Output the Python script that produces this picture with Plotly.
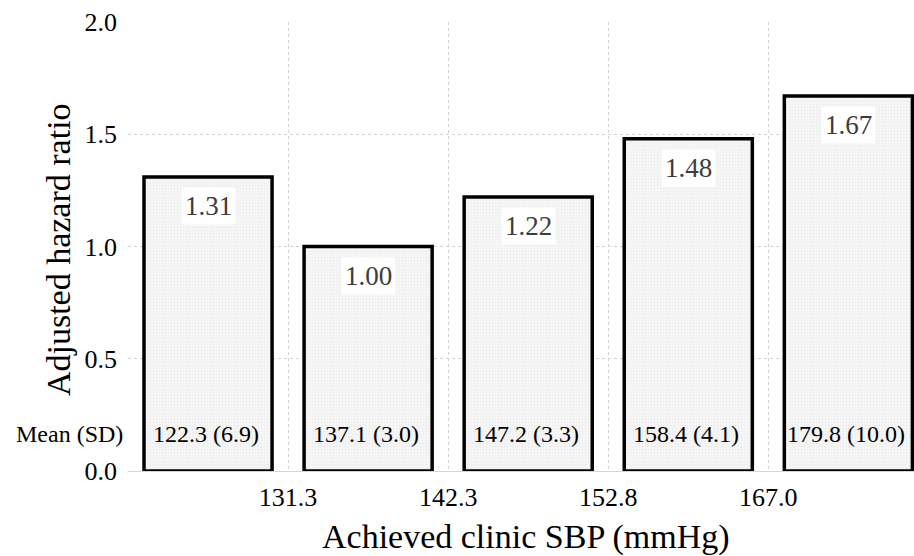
import plotly.graph_objects as go

# Adjusted hazard ratio per achieved clinic SBP quintile
groups = ["Q1", "Q2", "Q3", "Q4", "Q5"]
hazard_ratios = [1.31, 1.00, 1.22, 1.48, 1.67]
mean_sd_labels = ["122.3 (6.9)", "137.1 (3.0)", "147.2 (3.3)", "158.4 (4.1)", "179.8 (10.0)"]
cut_points = ["131.3", "142.3", "152.8", "167.0"]

SERIF = "Liberation Serif, Times New Roman, serif"

x_pos = list(range(len(groups)))
boundary_pos = [i + 0.5 for i in range(len(cut_points))]

fig = go.Figure()
fig.add_trace(go.Bar(
    x=x_pos,
    y=hazard_ratios,
    width=0.8,
    marker=dict(
        color="#f4f4f4",
        line=dict(color="black", width=3.5),
        pattern=dict(shape=".", fgcolor="#e2e2e2", bgcolor="#f7f7f7", size=3, solidity=0.3),
    ),
    hoverinfo="skip",
))

# hazard ratio labels near the top of each bar
for xi, hr in zip(x_pos, hazard_ratios):
    fig.add_annotation(
        x=xi, y=hr, yshift=-29, text=f"{hr:.2f}",
        showarrow=False, bgcolor="white", borderpad=3,
        font=dict(family=SERIF, size=27, color="#3c3c3c"),
    )

# mean (SD) labels at the base of each bar
for xi, lab in zip(x_pos, mean_sd_labels):
    fig.add_annotation(
        x=xi, y=0.165, xshift=-2, text=lab, showarrow=False,
        font=dict(family=SERIF, size=24, color="black"),
    )

fig.add_annotation(
    xref="paper", x=0, xanchor="right", xshift=-3, y=0.165, text="Mean (SD)",
    showarrow=False, font=dict(family=SERIF, size=24, color="black"),
)

# axis titles
fig.add_annotation(
    xref="paper", yref="paper", x=(526 - 128) / 786, y=0, yshift=-66,
    xanchor="center", yanchor="middle",
    text="Achieved clinic SBP (mmHg)", showarrow=False,
    font=dict(family=SERIF, size=34, color="black"),
)
fig.add_annotation(
    xref="paper", yref="paper", x=0, xshift=-70, y=0.492,
    xanchor="center", yanchor="middle",
    text="Adjusted hazard ratio", textangle=-90, showarrow=False,
    font=dict(family=SERIF, size=34, color="black"),
)

fig.update_layout(
    width=914, height=556,
    margin=dict(l=128, r=0, t=22, b=85),
    paper_bgcolor="white", plot_bgcolor="white",
    showlegend=False,
    bargap=0.2,
)
fig.update_xaxes(
    range=[-0.5, 4.41],
    tickmode="array",
    tickvals=[-0.5] + boundary_pos,
    ticktext=[""] + cut_points,
    showgrid=True, gridcolor="#d2d2d2", griddash="dot", gridwidth=1,
    zeroline=False, showline=False, ticks="", ticklabelstandoff=8,
    tickfont=dict(family=SERIF, size=26, color="black"),
)
fig.update_yaxes(
    range=[0, 2.0],
    tickvals=[0, 0.5, 1.0, 1.5, 2.0],
    ticktext=["0.0", "0.5", "1.0", "1.5", "2.0"],
    showgrid=True, gridcolor="#d2d2d2", griddash="dot", gridwidth=1,
    zeroline=True, zerolinecolor="#d6d6d6", zerolinewidth=1,
    showline=False, ticks="", ticklabelstandoff=10,
    tickfont=dict(family=SERIF, size=26, color="black"),
)

fig.write_html("out.html")
